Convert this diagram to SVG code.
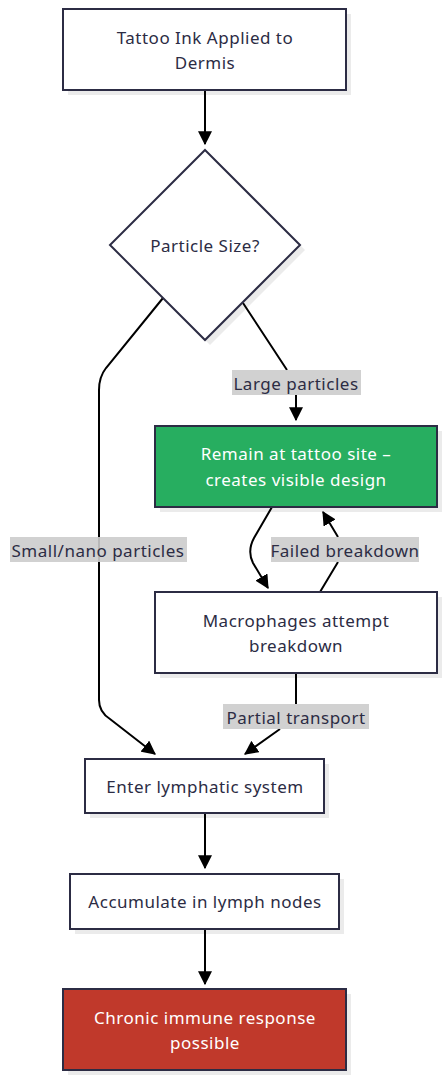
<svg xmlns="http://www.w3.org/2000/svg" width="447" height="1080" viewBox="0 0 447 1080">
<defs>
<style>
.box{fill:#ffffff;stroke:#2c2c44;stroke-width:2}
.shadow{fill:#000;opacity:0.08}
.t{font-family:"Noto Sans","Open Sans",sans-serif;font-size:17px;letter-spacing:0.5px;fill:#2c2c44;text-anchor:middle;dominant-baseline:central}
.w{fill:#ffffff}
.edge{fill:none;stroke:#000;stroke-width:2}
.lbg{fill:#cccccc;opacity:0.9}
</style>
<marker id="ah" viewBox="0 0 12 12" refX="11" refY="6" markerWidth="14" markerHeight="14" markerUnits="userSpaceOnUse" orient="auto">
<path d="M0,0 L12,6 L0,12 z" fill="#000"/>
</marker>
</defs>
<rect width="447" height="1080" fill="#ffffff"/>

<g id="connectors">
<path class="edge" d="M205,90 L205,144" marker-end="url(#ah)"/>
<path class="edge" d="M163,298 L106,368 Q99,377 99,390 L99,700 Q99,712 110,719 L155,754" marker-end="url(#ah)"/>
<path class="edge" d="M243,303 L287,370 M296,395 L296,420" marker-end="url(#ah)"/>
<path class="edge" d="M272,507 L254,538 Q247,551 253,563 L268,588" marker-end="url(#ah)"/>
<path class="edge" d="M320,592 L338,562 M338,537 L323,512" marker-end="url(#ah)"/>
<path class="edge" d="M296,673 L296,704 M280,729 L245,754" marker-end="url(#ah)"/>
<path class="edge" d="M205,813 L205,868" marker-end="url(#ah)"/>
<path class="edge" d="M205,929 L205,984" marker-end="url(#ah)"/>
<rect class="lbg" x="232" y="370" width="129" height="25"/>
<text class="t" x="296" y="383">Large particles</text>
<rect class="lbg" x="10" y="537" width="177" height="25"/>
<text class="t" x="98" y="550">Small/nano particles</text>
<rect class="lbg" x="271" y="537" width="148" height="25"/>
<text class="t" x="345" y="550">Failed breakdown</text>
<rect class="lbg" x="223" y="704" width="146" height="25"/>
<text class="t" x="296" y="717">Partial transport</text>
</g>

<g id="n1">
<rect class="shadow" x="68" y="14" width="283" height="81"/>
<rect class="box" x="63" y="9" width="283" height="81"/>
<text class="t" x="205" y="37">Tattoo Ink Applied to</text>
<text class="t" x="205" y="62">Dermis</text>
</g>

<g id="n2">
<polygon class="shadow" points="210,155 305,250 210,345 115,250"/>
<polygon class="box" points="205,150 300,245 205,340 110,245"/>
<text class="t" x="205" y="245">Particle Size?</text>
</g>

<g id="n3">
<rect class="shadow" x="160" y="431" width="282" height="81"/>
<rect class="box" x="155" y="426" width="282" height="81" style="fill:#27ae60"/>
<text class="t w" x="296" y="453">Remain at tattoo site –</text>
<text class="t w" x="296" y="479">creates visible design</text>
</g>

<g id="n4">
<rect class="shadow" x="160" y="597" width="282" height="81"/>
<rect class="box" x="155" y="592" width="282" height="81"/>
<text class="t" x="296" y="620">Macrophages attempt</text>
<text class="t" x="296" y="645">breakdown</text>
</g>

<g id="n5">
<rect class="shadow" x="90" y="764" width="239" height="54"/>
<rect class="box" x="85" y="759" width="239" height="54"/>
<text class="t" x="205" y="786">Enter lymphatic system</text>
</g>

<g id="n6">
<rect class="shadow" x="75" y="879" width="269" height="55"/>
<rect class="box" x="70" y="874" width="269" height="55"/>
<text class="t" x="205" y="901">Accumulate in lymph nodes</text>
</g>

<g id="n7">
<rect class="shadow" x="68" y="994" width="283" height="81"/>
<rect class="box" x="63" y="989" width="283" height="81" style="fill:#c0392b"/>
<text class="t w" x="205" y="1017">Chronic immune response</text>
<text class="t w" x="205" y="1042">possible</text>
</g>
</svg>
